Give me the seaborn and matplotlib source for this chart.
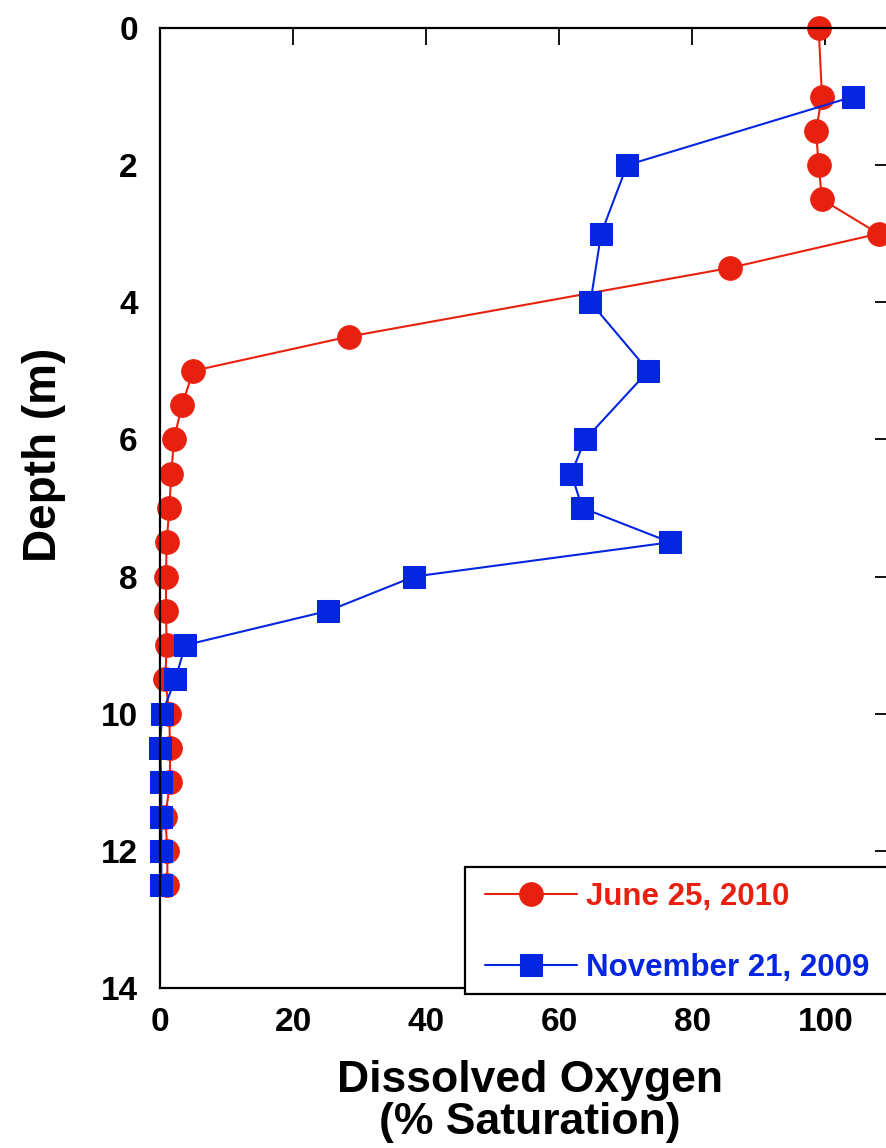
import matplotlib
matplotlib.use("Agg")

import matplotlib.pyplot as plt
from matplotlib.patches import Rectangle
import seaborn as sns

sns.set_style("white")
plt.rcParams['font.family'] = ['Liberation Sans', 'DejaVu Sans']
plt.rcParams['font.weight'] = 'bold'
plt.rcParams['text.color'] = 'black'
plt.rcParams['axes.labelcolor'] = 'black'

# June 25, 2010 profile
june_depth = [0, 1, 1.5, 2, 2.5, 3, 3.5, 4.5, 5, 5.5, 6, 6.5, 7, 7.5,
              8, 8.5, 9, 9.5, 10, 10.5, 11, 11.5, 12, 12.5]
june_do = [99, 99.5, 98.6, 99, 99.5, 108, 85.6, 28.4, 5, 3.3, 2.1, 1.7, 1.4, 1,
           0.9, 0.9, 1, 0.8, 1.4, 1.5, 1.5, 0.8, 1.1, 1.1]

# November 21, 2009 profile
nov_depth = [1, 2, 3, 4, 5, 6, 6.5, 7, 7.5, 8, 8.5, 9, 9.5,
             10, 10.5, 11, 11.5, 12, 12.5]
nov_do = [104.2, 70.2, 66.3, 64.7, 73.4, 63.9, 61.8, 63.5, 76.7, 38.2, 25.3, 3.8, 2.3,
          0.3, 0.0, 0.2, 0.2, 0.2, 0.2]

x_ticks = [0, 20, 40, 60, 80, 100]
y_ticks = [0, 2, 4, 6, 8, 10, 12, 14]

red = '#e8200f'
blue = '#0526e0'

fig = plt.figure(figsize=(8.86, 11.48), dpi=100)
ax = fig.add_axes([0.1806, 0.1394, 0.826, 0.8362])

sns.lineplot(
    x=june_do, y=june_depth, ax=ax,
    sort=False, estimator=None, orient='y',
    color=red, linewidth=1.5, marker='o', markersize=17,
    markeredgecolor=red, label='June 25, 2010', clip_on=False
)
sns.lineplot(
    x=nov_do, y=nov_depth, ax=ax,
    sort=False, estimator=None, orient='y',
    color=blue, linewidth=1.5, marker='s', markersize=16,
    markeredgecolor=blue, label='November 21, 2009', clip_on=False
)

ax.set_xlim(0, 110)
ax.set_ylim(14, 0)
ax.set_xticks(x_ticks)
ax.set_yticks(y_ticks)

for sp in ax.spines.values():
    sp.set_linewidth(1.6)
    sp.set_color('black')

ax.tick_params(
    direction='in', length=12, width=1.3, colors='black',
    top=True, right=True, labelsize=24
)
ax.tick_params(axis='y', pad=16)
ax.tick_params(axis='x', pad=14)

ax.set_xlabel("Dissolved Oxygen\n(% Saturation)", fontsize=32,
              fontweight='bold', linespacing=1.02)
ax.set_ylabel("Depth (m)", fontsize=33, fontweight='bold')
ax.xaxis.set_label_coords(0.505, -0.075)
ax.xaxis.label.set_verticalalignment('top')
ax.yaxis.set_label_coords(-0.159, 0.555)
ax.yaxis.label.set_verticalalignment('center')

# legend frame (white box that also hides the bottom spine)
frame = Rectangle((465 / 886, 1 - 994 / 1148), 0.6, 127 / 1148,
                  transform=fig.transFigure, facecolor='white',
                  edgecolor='black', linewidth=1.6, clip_on=False, zorder=4)
ax.add_patch(frame)

leg = ax.legend(
    loc='upper left', bbox_to_anchor=(485 / 886, 1 - 882 / 1148),
    bbox_transform=fig.transFigure, frameon=False,
    fontsize=22.5, handlelength=2.95, handletextpad=0.29,
    labelspacing=1.3, borderpad=0, borderaxespad=0,
    labelcolor='linecolor'
)
leg.set_zorder(5)
for t in leg.get_texts():
    t.set_fontweight('bold')

plt.savefig("out.png", dpi=100)
plt.close()
